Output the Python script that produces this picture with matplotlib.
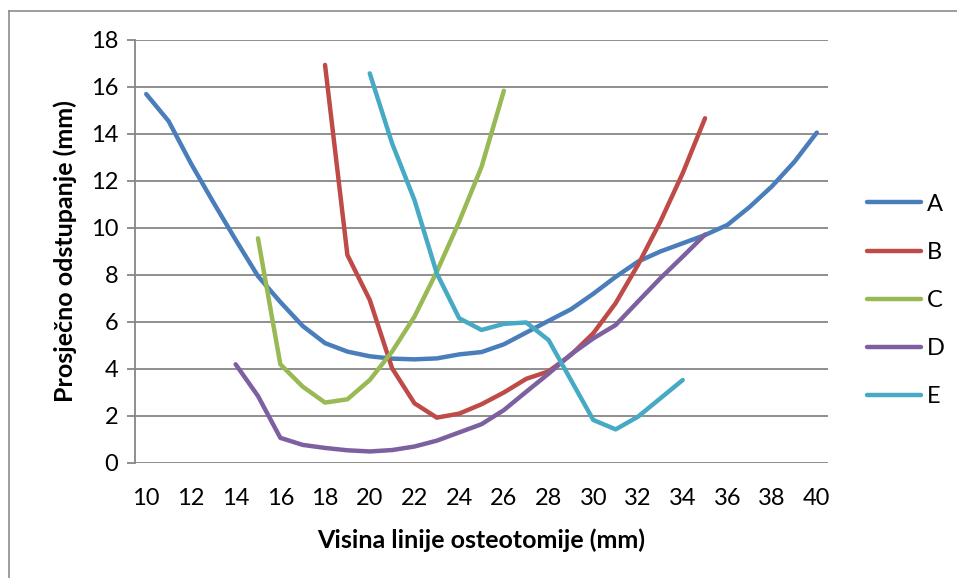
import matplotlib
matplotlib.use("Agg")
import matplotlib.pyplot as plt
from matplotlib.lines import Line2D

plt.rcParams['font.family'] = ['Lato', 'DejaVu Sans']

# Data
x_a = list(range(10, 41))
a = [15.7, 14.55, 12.75, 11.1, 9.5, 7.95, 6.85, 5.83, 5.1, 4.74, 4.54, 4.44, 4.41,
     4.45, 4.62, 4.72, 5.05, 5.55, 6.05, 6.54, 7.2, 7.92, 8.57, 9.0, 9.35, 9.7,
     10.13, 10.9, 11.78, 12.82, 14.06]
x_b = list(range(18, 36))
b = [16.94, 8.85, 6.94, 4.03, 2.54, 1.93, 2.1, 2.5, 3.0, 3.58, 3.9, 4.6, 5.52,
     6.8, 8.43, 10.27, 12.33, 14.67]
x_c = list(range(15, 27))
c = [9.56, 4.2, 3.25, 2.57, 2.71, 3.53, 4.74, 6.23, 8.14, 10.27, 12.6, 15.84]
x_d = list(range(14, 36))
d = [4.2, 2.85, 1.07, 0.77, 0.64, 0.54, 0.49, 0.55, 0.7, 0.95, 1.3, 1.65, 2.25,
     3.03, 3.8, 4.62, 5.3, 5.87, 6.87, 7.86, 8.78, 9.72]
x_e = list(range(20, 35))
e = [16.58, 13.6, 11.19, 8.07, 6.16, 5.66, 5.92, 5.98, 5.23, 3.53, 1.83, 1.43,
     1.97, 2.75, 3.53]

series = [("A", x_a, a, "#4A7EBB"), ("B", x_b, b, "#BE4B48"),
          ("C", x_c, c, "#98B954"), ("D", x_d, d, "#7D60A0"),
          ("E", x_e, e, "#46AAC5")]

xticks = list(range(10, 41, 2))
yticks = list(range(0, 19, 2))

fig = plt.figure(figsize=(9.57, 5.78), dpi=100)
ax = fig.add_axes([0.1411, 0.199, 0.7241, 0.7318])

grid_c = "#868686"
for yv in yticks:
    ax.axhline(yv, color=grid_c, lw=1.3, zorder=1)

handles = []
for name, xs, ys, col in series:
    ax.plot(xs, ys, color=col, lw=3.2, solid_capstyle="round",
            solid_joinstyle="round", zorder=3)
    handles.append(Line2D([0], [0], color=col, lw=3.2, solid_capstyle="round",
                          label=name))

ax.set_xlim(9.5, 40.5)
ax.set_ylim(0, 18)
ax.set_xticks(xticks)
ax.set_yticks(yticks)
ax.tick_params(axis="x", length=0, pad=18, labelsize=17)
ax.tick_params(axis="y", length=6, width=1.3, color=grid_c, pad=6, labelsize=17)

for s in ["top", "right", "bottom"]:
    ax.spines[s].set_visible(False)
ax.spines["left"].set_color(grid_c)
ax.spines["left"].set_linewidth(1.3)

ax.set_xlabel("Visina linije osteotomije (mm)", fontsize=18, fontweight="bold",
              labelpad=14)
ax.set_ylabel("Prosječno odstupanje (mm)", fontsize=18, fontweight="bold",
              labelpad=10)

fig.legend(handles=handles, loc="upper left", bbox_to_anchor=(0.906, 0.665),
           frameon=False, fontsize=17, handlelength=2.3, handletextpad=0.25,
           labelspacing=1.15, borderpad=0, borderaxespad=0)

# outer chart frame (only left and top edges visible in the crop)
fig.add_artist(Line2D([0.0094, 0.0094], [0, 0.981], color="#8c8c8c", lw=1.2,
                      transform=fig.transFigure))
fig.add_artist(Line2D([0.0094, 1.0], [0.981, 0.981], color="#8c8c8c", lw=1.2,
                      transform=fig.transFigure))

fig.savefig("out.png", dpi=100, facecolor="white")
